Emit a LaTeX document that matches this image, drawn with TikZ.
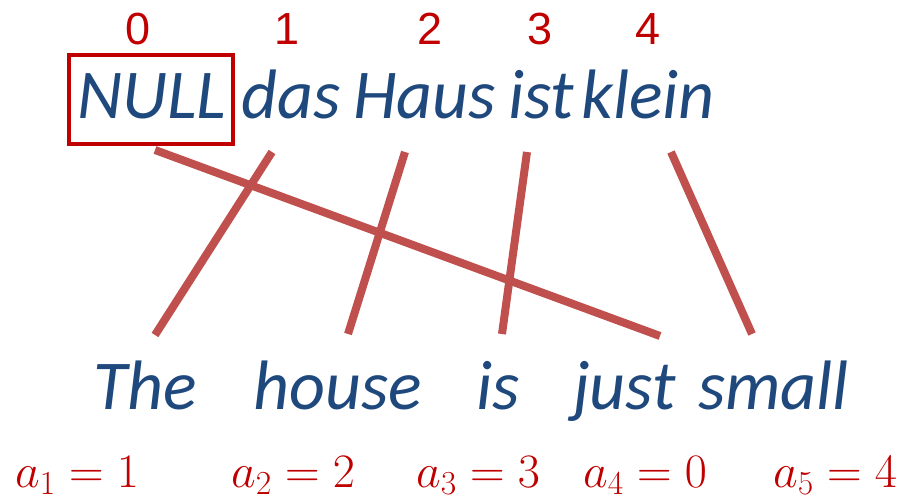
\RequirePackage{fix-cm}
\documentclass[tikz,border=0pt]{standalone}
\usepackage{fontspec}
\setmainfont{Carlito}
\newfontfamily\numfont{Liberation Sans}
\definecolor{wordblue}{HTML}{1F497D}
\definecolor{linkred}{HTML}{C0504D}
\definecolor{darkred}{HTML}{C00000}
\begin{document}
\begin{tikzpicture}[x=1pt,y=-1pt,
  word/.style={anchor=base west,inner sep=0pt,text=wordblue,font=\fontsize{70}{80}\selectfont\itshape},
  idx/.style={anchor=base,inner sep=0pt,text=darkred,font=\fontsize{45}{50}\selectfont\numfont},
  align/.style={anchor=base west,inner sep=0pt,text=darkred,font=\fontsize{48}{56}\selectfont},
  link/.style={draw=linkred,line width=8pt},
  nullbox/.style={draw=darkred,line width=4.5pt}]
\useasboundingbox (0,0) rectangle (910,502);
% index numbers
\node[idx] (i0) at (138,45) {0};
\node[idx] (i1) at (287,45) {1};
\node[idx] (i2) at (430,45) {2};
\node[idx] (i3) at (540,45) {3};
\node[idx] (i4) at (648,45) {4};
% German words
\node[word] (null) at (77,119) {NULL};
\node[word] (das) at (241,119) {das};
\node[word] (haus) at (353,119) {Haus};
\node[word] (ist) at (508,119) {ist};
\node[word] (klein) at (581,119) {klein};
\draw[nullbox] (69,55) rectangle (233,144);
% English words
\node[word] (the) at (93,409) {The};
\node[word] (house) at (253,409) {house};
\node[word] (is) at (476,409) {is};
\node[word] (just) at (573,409) {just};
\node[word] (small) at (698,409) {small};
% alignment labels
\node[align] (a1) at (15,487) {$a_1 = 1$};
\node[align] (a2) at (231,487) {$a_2 = 2$};
\node[align] (a3) at (416,487) {$a_3 = 3$};
\node[align] (a4) at (583,487) {$a_4 = 0$};
\node[align] (a5) at (773,487) {$a_5 = 4$};
% link end points
\coordinate (t0) at (155,150);
\coordinate (t1) at (272,152);
\coordinate (t2) at (405,152);
\coordinate (t3) at (527,152);
\coordinate (t4) at (671,152);
\coordinate (b1) at (155,335);
\coordinate (b2) at (348,334);
\coordinate (b3) at (502,334);
\coordinate (b4) at (660,336);
\coordinate (b5) at (752,334);
\draw[link] (t0) -- (b4);
\draw[link] (t1) -- (b1);
\draw[link] (t2) -- (b2);
\draw[link] (t3) -- (b3);
\draw[link] (t4) -- (b5);
\end{tikzpicture}
\end{document}
